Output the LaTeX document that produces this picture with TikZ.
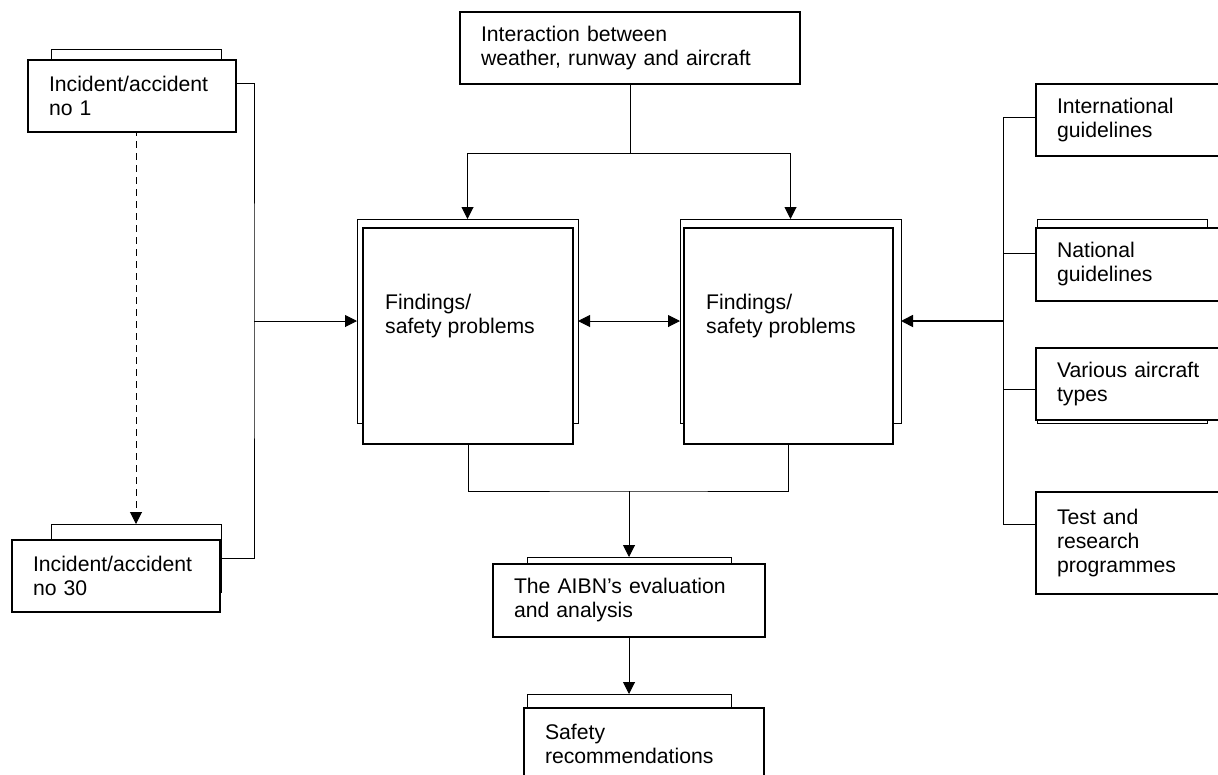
\documentclass[tikz,border=0pt]{standalone}
\usepackage{fontspec}
\setmainfont{Liberation Sans}
\usetikzlibrary{arrows.meta, backgrounds}

\newcommand{\boxfont}{\fontsize{21.2pt}{24pt}\selectfont}

\tikzset{
    box/.style={draw, line width=1.8pt, fill=white, anchor=north west, align=left,
        inner xsep=21pt, inner ysep=0pt, outer sep=0pt, font=\boxfont},
    tab/.style={draw, line width=1pt, fill=white, anchor=north west, inner sep=0pt, outer sep=0pt},
    txt/.style={anchor=north west, align=left, inner sep=0pt, font=\boxfont},
    line/.style={line width=1pt},
    arr/.style={line width=1pt, -{Triangle[length=12pt,width=12pt]}},
    arrtwo/.style={line width=1pt, {Triangle[length=12pt,width=12pt]}-{Triangle[length=12pt,width=12pt]}}
}

\begin{document}
\begin{tikzpicture}[x=1pt, y=-1pt]
    \useasboundingbox (0,0) rectangle (1218,774);
    % left column
    \node[tab, minimum width=170pt, minimum height=68pt] (inc1b) at (51,49) {};
    \node[box, text width=166pt, minimum height=72pt] (inc1) at (28,60) {Incident/accident\\no 1};
    \node[tab, minimum width=170pt, minimum height=68pt] (inc30b) at (51,524) {};
    \node[box, text width=166pt, minimum height=72pt] (inc30) at (12,540) {Incident/accident\\no 30};
    % top
    \node[box, text width=298pt, minimum height=72pt] (inter) at (460,12) {Interaction between\\weather, runway and aircraft};
    % findings
    \node[tab, minimum width=221pt, minimum height=204pt] (f1b) at (357,219) {};
    \node[box, text width=168pt, minimum height=216pt] (f1) at (363,228) {};
    \node[txt] (f1txt) at ([xshift=22pt,yshift=-66pt]f1.north west) {Findings/\\safety problems};
    \node[tab, minimum width=221pt, minimum height=204pt] (f2b) at (680,219) {};
    \node[box, text width=167pt, minimum height=216pt] (f2) at (684,228) {};
    \node[txt] (f2txt) at ([xshift=22pt,yshift=-66pt]f2.north west) {Findings/\\safety problems};
    % bottom
    \node[tab, minimum width=204pt, minimum height=40pt] (aibnb) at (527,557) {};
    \node[box, text width=230pt, minimum height=73pt] (aibn) at (493,564) {The AIBN’s evaluation\\and analysis};
    \node[tab, minimum width=204pt, minimum height=40pt] (safeb) at (527,694) {};
    \node[box, text width=198pt, minimum height=72pt] (safe) at (524,708) {Safety\\recommendations};
    % right column
    \node[tab, minimum width=170pt, minimum height=66pt] (intlb) at (1037,84) {};
    \node[box, text width=178pt, minimum height=72pt] (intl) at (1036,84) {International\\guidelines};
    \node[tab, minimum width=170pt, minimum height=68pt] (natlb) at (1037,219) {};
    \node[box, text width=178pt, minimum height=73pt] (natl) at (1036,228) {National\\guidelines};
    \node[tab, minimum width=170pt, minimum height=68pt] (varb) at (1037,355) {};
    \node[box, text width=178pt, minimum height=72pt] (var) at (1036,348) {Various aircraft\\types};
    \node[tab, minimum width=170pt, minimum height=64pt] (testb) at (1037,492) {};
    \node[box, text width=178pt, minimum height=102pt] (test) at (1036,492) {Test and\\research\\programmes};

    \coordinate (lbus) at (254,321);
    \coordinate (tsplit) at (630,153);
    \coordinate (bjoin) at (629,491);
    \coordinate (rbus) at (1003,321);

    \begin{scope}[on background layer]
        \draw[line] (inc1b.east) -| (lbus) |- (inc30b.east);
        \draw[arr] (lbus) -- (f1b.west);
        \draw[arr, dash pattern=on 7pt off 5pt] (inc1b.south) -- (inc30b.north);
        \draw[line] (inter.south) -- (tsplit);
        \draw[arr] (tsplit) -| (f1b.north);
        \draw[arr] (tsplit) -| (f2b.north);
        \draw[arrtwo] (f1b.east) -- (f2b.west);
        \draw[line] (f1.south) |- (bjoin) -| (f2.south);
        \draw[arr] (bjoin) -- (aibnb.north);
        \draw[arr] (aibn.south) -- (safeb.north);
        \draw[line] (intlb.west) -| (rbus) |- (testb.west);
        \draw[line] (natlb.west) -- (natlb.west -| rbus);
        \draw[line] (varb.west) -- (varb.west -| rbus);
        \draw[arr, line width=1.8pt] (rbus) -- (f2b.east);
    \end{scope}
\end{tikzpicture}
\end{document}
